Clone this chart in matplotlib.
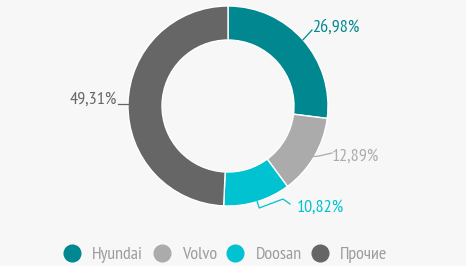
import matplotlib
matplotlib.use("Agg")
import matplotlib.pyplot as plt
from matplotlib import font_manager
from matplotlib.lines import Line2D
import numpy as np

categories = ["Hyundai", "Volvo", "Doosan", "Прочие"]
values = [26.98, 12.89, 10.82, 49.31]
labels = ["26,98%", "12,89%", "10,82%", "49,31%"]
colors = ["#00878F", "#ABABAB", "#00C2D0", "#666666"]

names = {f.name for f in font_manager.fontManager.ttflist}
fam = "DejaVu Sans"
for cand in ["PT Sans Narrow", "Fira Sans Condensed", "Roboto Condensed", "Open Sans Condensed",
             "Archivo Narrow", "Asap Condensed", "Barlow Condensed"]:
    if cand in names:
        fam = cand
        break
plt.rcParams["font.family"] = [fam, "DejaVu Sans"]

W, H = 466, 266
fig = plt.figure(figsize=(W / 100, H / 100), dpi=100, facecolor="#F7F7F7")
ax = fig.add_axes([0, 0, 1, 1])
ax.set_facecolor("#F7F7F7")

cx, cy, R = 228, H - 106, 100
wedges, _ = ax.pie(values, colors=colors, startangle=90, counterclock=False,
                   center=(cx, cy), radius=R, frame=True,
                   wedgeprops=dict(width=34, edgecolor="white", linewidth=1))
ax.set_xlim(0, W)
ax.set_ylim(0, H)
ax.set_aspect("equal")
ax.axis("off")

mids = [np.deg2rad((w.theta1 + w.theta2) / 2) for w in wedges]

def Y(y):
    return H - y

def edge(i):
    return cx + R * np.cos(mids[i]), cy + R * np.sin(mids[i])

x0, y0 = edge(0)
ax.plot([x0, 312], [y0, Y(30)], color=colors[0], lw=0.9)
x0, y0 = edge(1)
ax.plot([x0 - 1, 319, 332], [y0, Y(156), Y(153)], color=colors[1], lw=0.9)
x0, y0 = edge(2)
ax.plot([x0, x0 + 2, 283, 290], [y0, Y(208), Y(199), Y(204)], color=colors[2], lw=0.9)
ax.plot([118, 128.5], [Y(104), Y(104)], color=colors[3], lw=0.9)

label_pos = [(312, 28, "left"), (332, 157, "left"), (297, 208, "left"), (117, 100, "right")]
for (lx, ly, ha), lab, c in zip(label_pos, labels, colors):
    ax.text(lx, Y(ly), lab, color=c, fontsize=13, ha=ha, va="center")

handles = [Line2D([], [], marker="o", linestyle="none", markersize=12,
                  markerfacecolor=c, markeredgecolor=c) for c in colors]
fig.legend(handles, categories, loc="center left", bbox_to_anchor=(63 / W, 1 - 255 / H),
           ncol=4, frameon=False, fontsize=13, handletextpad=0.62,
           columnspacing=0.52, handlelength=1.0, labelcolor="#9C9C9C",
           borderpad=0, borderaxespad=0)

fig.savefig("out.png", dpi=100, facecolor=fig.get_facecolor())
